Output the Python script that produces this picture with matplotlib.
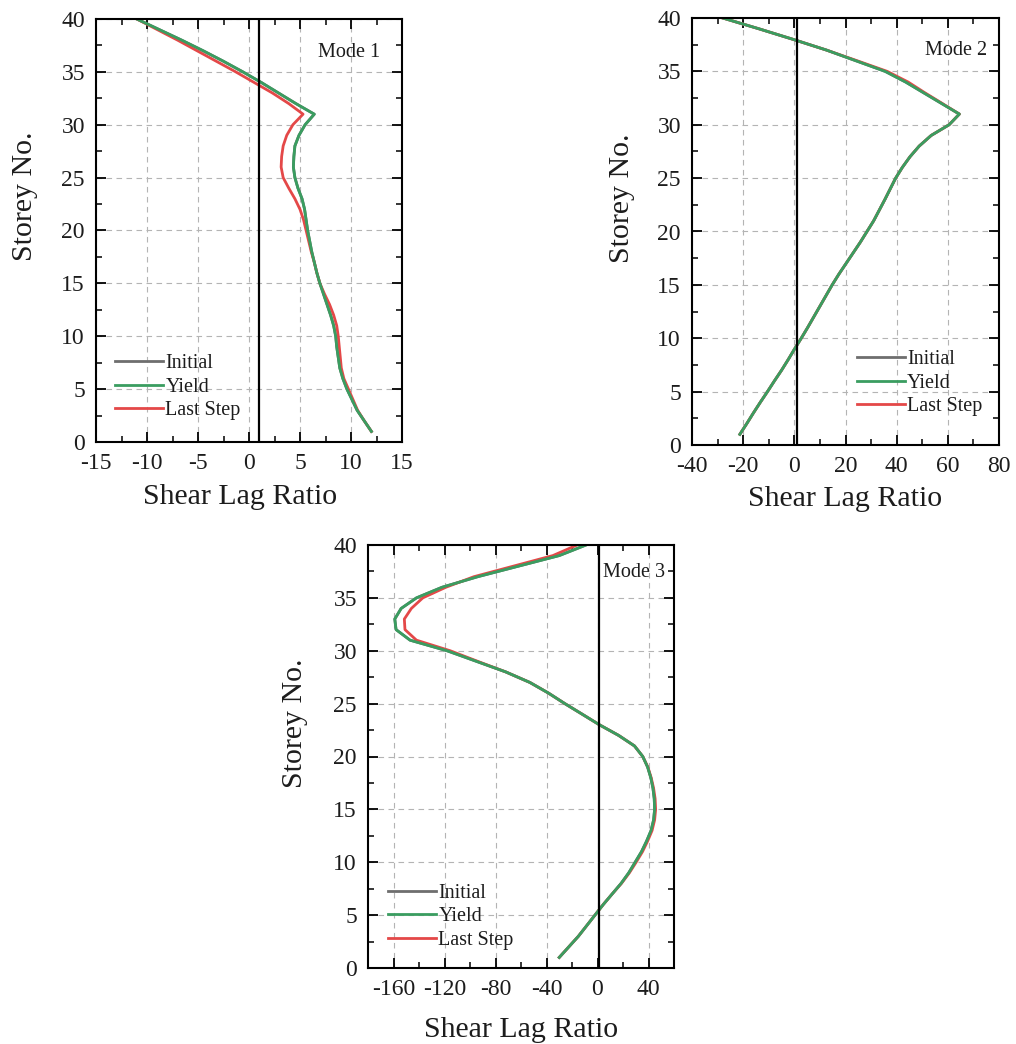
import matplotlib
matplotlib.use("Agg")
import matplotlib.pyplot as plt
from matplotlib.ticker import MultipleLocator

plt.rcParams["font.family"] = ["Liberation Serif", "DejaVu Serif"]
plt.rcParams["axes.unicode_minus"] = False

# ---------------- data ----------------
storeys = list(range(1, 41))

# Mode 1
yield_m1 = [12.0, 11.3, 10.6, 10.1, 9.6, 9.2, 8.9, 8.75, 8.6, 8.5,
            8.3, 8.0, 7.65, 7.3, 6.95, 6.65, 6.4, 6.15, 5.95, 5.75,
            5.6, 5.45, 5.2, 4.8, 4.5, 4.35, 4.4, 4.5, 4.9, 5.5,
            6.4, 4.6, 2.9, 1.2, -0.6, -2.5, -4.5, -6.6, -8.8, -11.0]
initial_m1 = [12.0, 11.3, 10.6, 10.1, 9.6, 9.2, 8.9, 8.75, 8.6, 8.5,
              8.3, 8.0, 7.65, 7.3, 6.95, 6.65, 6.4, 6.15, 5.95, 5.75,
              5.6, 5.45, 5.2, 4.8, 4.5, 4.35, 4.4, 4.5, 4.9, 5.5,
              6.4, 4.6, 2.9, 1.2, -0.6, -2.5, -4.5, -6.6, -8.8, -11.0]
last_m1 = [12.0, 11.3, 10.65, 10.2, 9.75, 9.3, 9.05, 8.95, 8.85, 8.75,
           8.6, 8.3, 7.9, 7.4, 6.95, 6.65, 6.4, 6.1, 5.85, 5.6,
           5.35, 5.0, 4.5, 3.9, 3.35, 3.15, 3.2, 3.35, 3.7, 4.3,
           5.3, 3.9, 2.3, 0.5, -1.3, -3.2, -5.1, -7.0, -9.0, -11.0]

# Mode 2
yield_m2 = [-21.3, -18.6, -16.0, -13.3, -10.5, -7.8, -5.0, -2.4, 0.1, 2.7,
            5.2, 7.6, 10.0, 12.4, 14.8, 17.4, 20.2, 23.0, 25.8, 28.4,
            31.0, 33.2, 35.4, 37.5, 39.6, 42.2, 45.2, 48.8, 53.5, 60.5,
            64.5, 57.5, 50.5, 43.5, 35.5, 24.0, 12.5, -0.5, -14.0, -28.0]
initial_m2 = [-21.3, -18.6, -16.0, -13.3, -10.5, -7.8, -5.0, -2.4, 0.1, 2.7,
              5.2, 7.6, 10.0, 12.4, 14.8, 17.4, 20.2, 23.0, 25.8, 28.4,
              31.0, 33.2, 35.4, 37.5, 39.6, 42.2, 45.2, 48.8, 53.5, 60.5,
              64.5, 57.5, 50.5, 43.5, 35.5, 24.0, 12.5, -0.5, -14.0, -28.0]
last_m2 = [-21.3, -18.6, -16.0, -13.3, -10.5, -7.8, -5.0, -2.4, 0.1, 2.7,
           5.2, 7.6, 10.0, 12.4, 14.8, 17.4, 20.2, 23.0, 25.8, 28.4,
           31.0, 33.2, 35.4, 37.5, 39.6, 42.2, 45.2, 48.8, 53.5, 60.5,
           64.5, 57.8, 51.0, 44.5, 36.3, 24.5, 12.5, -0.5, -14.0, -28.0]

# Mode 3
yield_m3 = [-30.0, -22.5, -15.0, -8.5, -2.0, 4.5, 11.5, 18.5, 24.5, 29.5,
            34.5, 38.5, 42.0, 44.0, 44.8, 44.5, 43.5, 41.8, 39.3, 35.5,
            29.0, 16.5, 1.5, -12.0, -25.6, -38.5, -53.0, -72.0, -95.0, -118.0,
            -147.0, -158.0, -159.0, -154.0, -142.0, -122.0, -94.0, -62.0, -30.0, -9.0]
initial_m3 = [-30.0, -22.5, -15.0, -8.5, -2.0, 4.5, 11.5, 18.5, 24.5, 29.5,
              34.5, 38.5, 42.0, 44.0, 44.8, 44.5, 43.5, 41.8, 39.3, 35.5,
              29.0, 16.5, 1.5, -12.0, -25.6, -38.5, -53.0, -72.0, -95.0, -118.0,
              -147.0, -158.0, -159.0, -154.0, -142.0, -122.0, -94.0, -62.0, -30.0, -9.0]
last_m3 = [-30.0, -22.5, -15.0, -8.5, -2.0, 4.5, 11.5, 18.8, 25.0, 30.3,
           35.3, 39.3, 42.8, 44.8, 45.6, 45.2, 44.0, 42.1, 39.5, 35.5,
           29.0, 16.5, 1.5, -12.0, -25.6, -38.5, -53.0, -72.0, -94.0, -115.5,
           -142.0, -151.0, -151.5, -146.0, -137.0, -119.0, -97.0, -66.0, -35.0, -16.0]

series_labels = ["Initial", "Yield", "Last Step"]
mode_titles = ["Mode 1", "Mode 2", "Mode 3"]
x_limits = [(-15, 15), (-40, 80), (-180, 60)]
x_major = [5, 20, 40]
x_minor = [2.5, 10, 20]
x_ticks3 = [-160, -120, -80, -40, 0, 40]

# ---------------- styling ----------------
COL_INIT = "#6e6e6e"
COL_YIELD = "#3a9d60"
COL_LAST = "#e44848"
TXT = "#1c1c1c"

W, H = 1016, 1044
fig = plt.figure(figsize=(W / 100, H / 100), dpi=100)
fig.patch.set_facecolor("white")

def px_rect(left, top, right, bottom):
    return [left / W, 1 - bottom / H, (right - left) / W, (bottom - top) / H]

rects = [px_rect(96, 19, 402, 442),
         px_rect(692, 18, 999, 445),
         px_rect(368, 545, 674, 968)]
legend_anchor = [(0.062, 0.13), (0.537, 0.145), (0.065, 0.121)]
title_pos = [(0.928, 0.92), (0.961, 0.925), (0.97, 0.934)]
ylabel_pos = [(-0.19, 0.58), (-0.185, 0.578), (-0.195, 0.579)]
xlabel_pos = [(0.47, -0.10), (0.5, -0.095), (0.5, -0.115)]

data = [(initial_m1, yield_m1, last_m1),
        (initial_m2, yield_m2, last_m2),
        (initial_m3, yield_m3, last_m3)]

for i in range(3):
    ax = fig.add_axes(rects[i])
    init, yld, last = data[i]
    h_init, = ax.plot(init, storeys, color=COL_INIT, lw=2.0, zorder=3)
    h_last, = ax.plot(last, storeys, color=COL_LAST, lw=2.0, zorder=4)
    h_yield, = ax.plot(yld, storeys, color=COL_YIELD, lw=2.0, zorder=5)
    ax.axvline(1, color="black", lw=1.6, zorder=6)

    ax.set_xlim(*x_limits[i])
    ax.set_ylim(0, 40)
    if i == 2:
        ax.set_xticks(x_ticks3)
    else:
        ax.xaxis.set_major_locator(MultipleLocator(x_major[i]))
    ax.xaxis.set_minor_locator(MultipleLocator(x_minor[i]))
    ax.yaxis.set_major_locator(MultipleLocator(5))
    ax.yaxis.set_minor_locator(MultipleLocator(2.5))

    ax.grid(True, which="major", color="#b4b4b4", lw=0.8,
            linestyle=(0, (5, 4)), zorder=1)
    ax.set_axisbelow(True)
    for sp in ax.spines.values():
        sp.set_linewidth(1.5)
        sp.set_color("black")
        sp.set_zorder(7)

    ax.tick_params(which="both", direction="in", top=True, right=True,
                   colors="black", labelcolor=TXT, labelsize=17)
    ax.tick_params(which="major", length=7, width=1.3, pad=8)
    ax.tick_params(which="minor", length=4, width=1.1)

    ax.set_xlabel("Shear Lag Ratio", fontsize=21.5, color=TXT)
    ax.set_ylabel("Storey No.", fontsize=21.5, color=TXT)
    ax.xaxis.set_label_coords(*xlabel_pos[i])
    ax.yaxis.set_label_coords(*ylabel_pos[i])

    ax.text(title_pos[i][0], title_pos[i][1], mode_titles[i],
            transform=ax.transAxes, ha="right", va="center",
            fontsize=14.5, color=TXT, zorder=8)

    ax.legend([h_init, h_yield, h_last], series_labels,
              loc="center left", bbox_to_anchor=legend_anchor[i],
              frameon=False, fontsize=14.5, handlelength=2.4,
              handletextpad=0.1, labelspacing=0.22, borderpad=0,
              borderaxespad=0, labelcolor=TXT)

fig.savefig("out.png", dpi=100, facecolor="white")
